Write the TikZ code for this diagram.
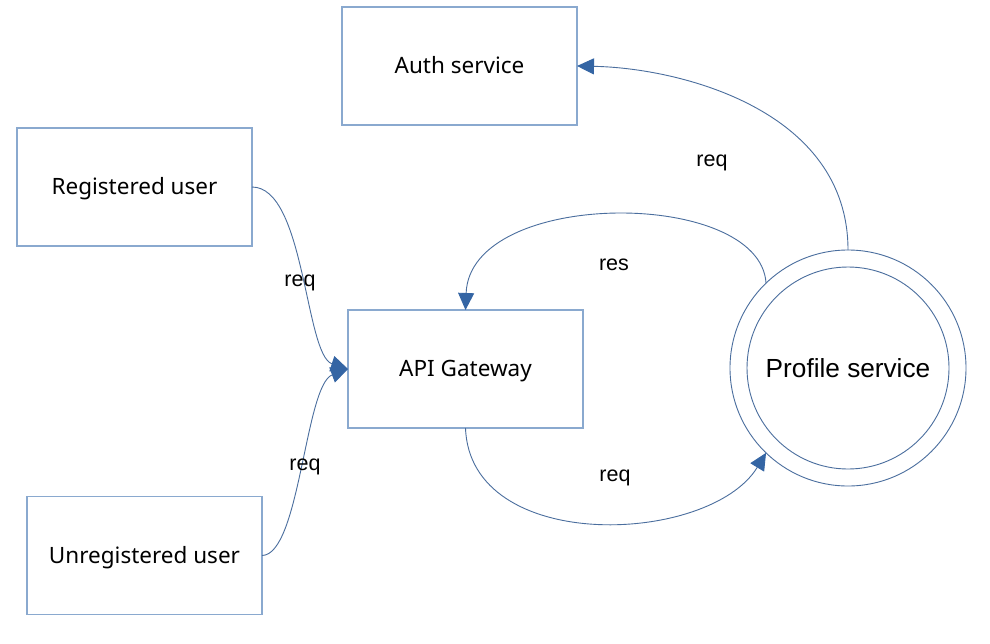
\documentclass[tikz,border=0pt]{standalone}
\usepackage{fontspec}
\setmainfont{Noto Sans}
\newfontfamily\arialfont{Liberation Sans}
\usetikzlibrary{arrows.meta}
\definecolor{boxline}{HTML}{8AA9CF}
\definecolor{conn}{HTML}{4A6E9E}
\definecolor{tipfill}{HTML}{3465A4}
\tikzset{
  boxnode/.style={draw=boxline, line width=1.1pt, minimum width=235pt, minimum height=118pt,
    inner sep=0pt, outer sep=0pt, font=\fontsize{22.5}{26}\selectfont, text height=15.5pt, text depth=0pt},
  ringnode/.style={circle, draw=conn, line width=0.9pt, inner sep=0pt, outer sep=0pt},
  conline/.style={draw=conn, line width=0.9pt, -{Triangle[length=17pt,width=16pt,color=tipfill,fill=tipfill]}},
  lbl/.style={anchor=base, inner sep=0pt, font=\arialfont\fontsize{21.5}{24}\selectfont}
}
\begin{document}
\begin{tikzpicture}[x=1pt,y=-1pt]
\useasboundingbox[fill=white] (0,0) rectangle (990,643);
\node[boxnode] (auth) at (459.5,66) {Auth service};
\node[boxnode] (reg) at (134.5,187) {Registered user};
\node[boxnode] (api) at (465.5,369) {API Gateway};
\node[boxnode] (unreg) at (144.5,555.5) {Unregistered user};
\node[ringnode, minimum size=236pt] (prof) at (848,368) {};
\node[ringnode, minimum size=202pt, text height=18pt, text depth=0pt, font=\arialfont\fontsize{26.2}{28}\selectfont] (profin) at (848,368) {Profile service};

\draw[conline] (reg.east) .. controls (305,187) and (305,355) .. (api.west);
\draw[conline] (unreg.east) .. controls (300,555) and (305,385) .. (api.west);
\draw[conline] (api.south) .. controls (470,555) and (710,545) .. (prof.226);
\draw[conline] (prof.134) .. controls (760,188) and (470,188) .. (api.north);
\draw[conline] (prof.north) .. controls (848,110) and (680,68) .. (auth.east);

\node[lbl] (l1) at (300,286) {req};
\node[lbl] (l2) at (305,470) {req};
\node[lbl] (l3) at (615,481.5) {req};
\node[lbl] (l4) at (614,270) {res};
\node[lbl] (l5) at (712,166) {req};
\end{tikzpicture}
\end{document}
